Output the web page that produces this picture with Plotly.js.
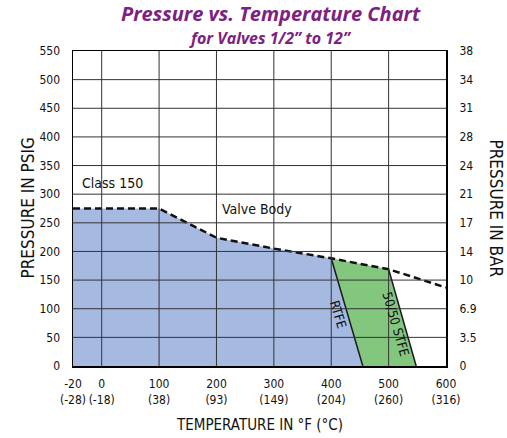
<!DOCTYPE html>
<html>
<head>
<meta charset="utf-8">
<script src="https://cdn.plot.ly/plotly-3.0.1.min.js"></script>
<style>html,body{margin:0;padding:0;background:#fff;}#chart{width:507px;height:438px;}</style>
</head>
<body>
<div id="chart"></div>
<script>
// ---- data ----
const tempF = [-20, 100, 200, 300, 400, 500, 600];
const valveBodyPsi = [275, 275, 224, 205, 188, 169, 137];
const rtfeTemp = [400, 455];
const rtfePsi = [188, 0];
const stfeTemp = [500, 548];
const stfePsi = [169, 0];
const xTickF = [-20, 0, 100, 200, 300, 400, 500, 600];
const xTickC = [-28, -18, 38, 93, 149, 204, 260, 316];
const psiTicks = [0, 50, 100, 150, 200, 250, 300, 350, 400, 450, 500, 550];
const barTicks = ['0', '3.5', '6.9', '10', '14', '17', '21', '24', '28', '31', '34', '38'];

// the chart's temperature scale is broken below 0 F (the -20..0 span is drawn half a grid wide)
const xd = t => (t < 0 ? t * 2.5 : t);

const narrow = '"Liberation Sans Narrow", "DejaVu Sans Condensed", Arial, sans-serif';

// blue region: under valve body line up to RTFE limit
const blueX = [], blueY = [];
blueX.push(xd(tempF[0])); blueY.push(0);
tempF.forEach((t, i) => { if (t <= rtfeTemp[0]) { blueX.push(xd(t)); blueY.push(valveBodyPsi[i]); } });
blueX.push(xd(rtfeTemp[1])); blueY.push(rtfePsi[1]);

// green region: between RTFE and 50/50 STFE limits
const greenX = [], greenY = [];
tempF.forEach((t, i) => { if (t >= rtfeTemp[0] && t <= stfeTemp[0]) { greenX.push(xd(t)); greenY.push(valveBodyPsi[i]); } });
greenX.push(xd(stfeTemp[1])); greenY.push(stfePsi[1]);
greenX.push(xd(rtfeTemp[1])); greenY.push(rtfePsi[1]);

const traces = [
  {x: blueX, y: blueY, type: 'scatter', mode: 'lines', fill: 'toself', fillcolor: '#A5B9E1', line: {width: 0}, hoverinfo: 'skip'},
  {x: greenX, y: greenY, type: 'scatter', mode: 'lines', fill: 'toself', fillcolor: '#83C77F', line: {width: 0}, hoverinfo: 'skip'},
  {x: rtfeTemp.map(xd), y: rtfePsi, type: 'scatter', mode: 'lines', line: {color: '#1a1a1a', width: 1.5}},
  {x: stfeTemp.map(xd), y: stfePsi, type: 'scatter', mode: 'lines', line: {color: '#1a1a1a', width: 1.5}},
  {x: tempF.map(xd), y: valveBodyPsi, type: 'scatter', mode: 'lines', line: {color: '#111', width: 2.5, dash: '7px,4px'}},
  {x: [], y: [], yaxis: 'y2', type: 'scatter', mode: 'lines'}
];

// grid drawn above the filled regions
const shapes = [];
xTickF.slice(1, -1).forEach(t => shapes.push({type: 'line', xref: 'x', yref: 'paper', x0: xd(t), x1: xd(t), y0: 0, y1: 1, layer: 'above', line: {color: '#333', width: 1}}));
psiTicks.slice(1, -1).forEach(p => shapes.push({type: 'line', xref: 'paper', yref: 'y', x0: 0, x1: 1, y0: p, y1: p, layer: 'above', line: {color: '#333', width: 1}}));

const purple = '#7D2181';
const layout = {
  width: 507, height: 438,
  margin: {l: 73, r: 61, t: 51, b: 72},
  paper_bgcolor: '#fff', plot_bgcolor: '#fff',
  showlegend: false,
  xaxis: {
    range: [xd(-20), 600], tickvals: xTickF.map(xd), tickangle: 0,
    ticktext: xTickF.map((f, i) => f + '<br>(' + xTickC[i] + ')'),
    showgrid: false, zeroline: false, showline: true, mirror: true, linecolor: '#000', linewidth: 1.5,
    ticks: 'outside', ticklen: 6, tickcolor: 'rgba(0,0,0,0)',
    tickfont: {family: narrow, size: 12, color: '#111'}, fixedrange: true
  },
  yaxis: {
    range: [0, 550], tickvals: psiTicks, ticktext: psiTicks.map(String),
    showgrid: false, zeroline: false, showline: true, mirror: true, linecolor: '#000', linewidth: 1.5,
    ticks: 'outside', ticklen: 9, tickcolor: 'rgba(0,0,0,0)',
    tickfont: {family: narrow, size: 12, color: '#111'}, fixedrange: true
  },
  yaxis2: {
    overlaying: 'y', side: 'right', range: [0, 550], tickvals: psiTicks, ticktext: barTicks,
    showgrid: false, zeroline: false, showline: false,
    ticks: 'outside', ticklen: 10, tickcolor: 'rgba(0,0,0,0)',
    tickfont: {family: narrow, size: 12, color: '#111'}, fixedrange: true
  },
  shapes: shapes,
  annotations: [
    {xref: 'paper', yref: 'paper', x: 0.53, y: 1, yshift: 38, xanchor: 'center', yanchor: 'middle', showarrow: false,
     text: 'Pressure vs. Temperature Chart', font: {family: '"Open Sans", sans-serif', size: 20, color: purple, weight: 700, style: 'italic'}},
    {xref: 'paper', yref: 'paper', x: 0.53, y: 1, yshift: 13, xanchor: 'center', yanchor: 'middle', showarrow: false,
     text: 'for Valves 1/2\u201D to 12\u201D', font: {family: '"Open Sans", sans-serif', size: 16, color: purple, weight: 700, style: 'italic'}},
    {xref: 'paper', yref: 'paper', x: 0, xshift: -46, y: 0.5, xanchor: 'center', yanchor: 'middle', showarrow: false, textangle: -90,
     text: 'PRESSURE IN PSIG', font: {family: narrow, size: 17, color: '#111'}},
    {xref: 'paper', yref: 'paper', x: 1, xshift: 50, y: 0.5, xanchor: 'center', yanchor: 'middle', showarrow: false, textangle: 90,
     text: 'PRESSURE IN BAR', font: {family: narrow, size: 17, color: '#111'}},
    {xref: 'paper', yref: 'paper', x: 0.5, y: 0, yshift: -59, xanchor: 'center', yanchor: 'middle', showarrow: false,
     text: 'TEMPERATURE IN \u00B0F (\u00B0C)', font: {family: narrow, size: 15, color: '#111'}},
    {xref: 'x', yref: 'y', x: -38, y: 319, xanchor: 'left', yanchor: 'middle', showarrow: false,
     text: 'Class 150', font: {family: narrow, size: 14, color: '#111'}},
    {xref: 'x', yref: 'y', x: 207, y: 274, xanchor: 'left', yanchor: 'middle', showarrow: false,
     text: 'Valve Body', font: {family: narrow, size: 14, color: '#111'}},
    {xref: 'x', yref: 'y', x: 411, y: 91, xanchor: 'center', yanchor: 'middle', showarrow: false, textangle: 73,
     text: 'RTFE', font: {family: narrow, size: 13, color: '#111'}},
    {xref: 'x', yref: 'y', x: 512, y: 74, xanchor: 'center', yanchor: 'middle', showarrow: false, textangle: 74,
     text: '50/50 STFE', font: {family: narrow, size: 13, color: '#111'}}
  ]
};

Plotly.newPlot('chart', traces, layout, {displayModeBar: false, staticPlot: true});
</script>
</body>
</html>
